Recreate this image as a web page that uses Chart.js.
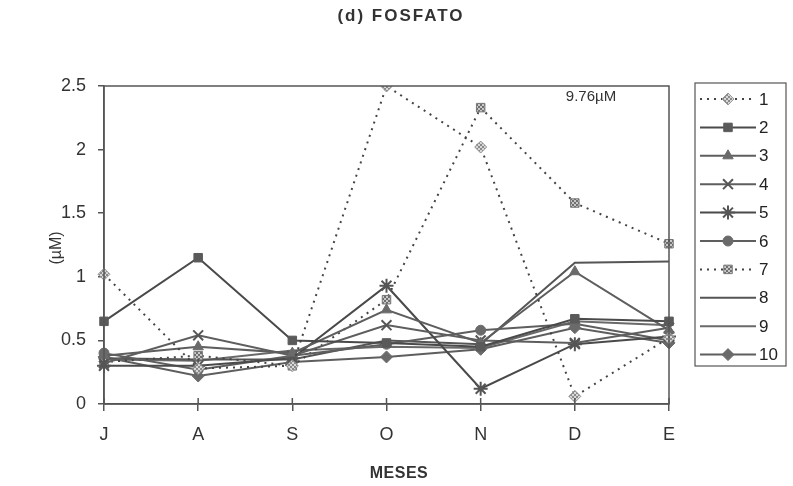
<!DOCTYPE html>
<html>
<head>
<meta charset="utf-8">
<script src="https://cdn.jsdelivr.net/npm/chart.js@4/dist/chart.umd.min.js"></script>
<style>
  html, body { margin: 0; padding: 0; background: #fff; }
  #wrap { width: 793px; height: 486px; position: relative; }
</style>
</head>
<body>
<div id="wrap"><canvas id="c" width="793" height="486"></canvas></div>
<script>
// Monthly phosphate concentration (µM) at ten stations
const meses = ['J', 'A', 'S', 'O', 'N', 'D', 'E'];
const yTicks = [0, 0.5, 1, 1.5, 2, 2.5];
const est1  = [1.02, 0.28, 0.30, 2.50, 2.02, 0.06, 0.52];
const est2  = [0.65, 1.15, 0.50, 0.48, 0.45, 0.67, 0.65];
const est3  = [0.38, 0.45, 0.40, 0.74, 0.48, 1.04, 0.58];
const est4  = [0.32, 0.54, 0.38, 0.62, 0.50, 0.48, 0.60];
const est5  = [0.30, 0.30, 0.36, 0.93, 0.12, 0.47, 0.53];
const est6  = [0.40, 0.27, 0.38, 0.47, 0.58, 0.63, 0.50];
const est7  = [0.33, 0.38, 0.30, 0.82, 2.33, 1.58, 1.26];
const est8  = [0.36, 0.35, 0.35, 0.50, 0.47, 1.11, 1.12];
const est9  = [0.35, 0.34, 0.42, 0.45, 0.44, 0.65, 0.62];
const est10 = [0.37, 0.22, 0.33, 0.37, 0.43, 0.60, 0.48];
const nota = '9.76\u00B5M';

function checker(a, b) {
  const p = document.createElement('canvas');
  p.width = 4; p.height = 4;
  const g = p.getContext('2d');
  g.fillStyle = b; g.fillRect(0, 0, 4, 4);
  g.fillStyle = a; g.fillRect(0, 0, 2, 2); g.fillRect(2, 2, 2, 2);
  return g.createPattern(p, 'repeat');
}
const ctx = document.getElementById('c').getContext('2d');
const chk1 = checker('#8a8a8a', '#d8d8d8');
const chk7 = checker('#6f6f6f', '#c8c8c8');

const LINE = '#5e5e5e';
const DOT = [2, 5];
function ds(label, data, o) {
  return Object.assign({
    label, data,
    borderColor: LINE, borderWidth: 2, borderDash: [],
    pointBackgroundColor: '#6a6a6a', pointBorderColor: '#6a6a6a',
    pointBorderWidth: 1, pointRadius: 5, pointStyle: 'circle',
    tension: 0, fill: false
  }, o);
}
const datasets = [
  ds('1', est1, { borderDash: DOT, borderColor: '#444', pointStyle: 'rectRot', pointRadius: 6, pointBackgroundColor: chk1, pointBorderColor: '#999' }),
  ds('2', est2, { borderColor: '#4a4a4a', pointStyle: 'rect', pointRadius: 6, pointBackgroundColor: '#5a5a5a', pointBorderColor: '#5a5a5a' }),
  ds('3', est3, { pointStyle: 'triangle', pointRadius: 6 }),
  ds('4', est4, { pointStyle: 'crossRot', pointRadius: 7, pointBorderWidth: 2, pointBorderColor: '#555' }),
  ds('5', est5, { borderColor: '#4a4a4a', pointStyle: 'star', pointRadius: 7, pointBorderWidth: 2, pointBorderColor: '#555' }),
  ds('6', est6, { pointStyle: 'circle', pointRadius: 5 }),
  ds('7', est7, { borderDash: DOT, borderColor: '#444', pointStyle: 'rect', pointRadius: 6, pointBackgroundColor: chk7, pointBorderColor: '#777' }),
  ds('8', est8, { borderColor: '#555', pointRadius: 0, pointStyle: false }),
  ds('9', est9, { borderColor: '#6a6a6a', pointRadius: 0, pointStyle: false }),
  ds('10', est10, { pointStyle: 'rectRot', pointRadius: 6 })
];

const FONT = '"Liberation Sans", Arial, sans-serif';

const decor = {
  id: 'decor',
  afterDatasetsDraw(chart) {
    const { ctx, chartArea: a } = chart;
    const xs = chart.scales.x;
    ctx.save();
    // frame around plot area
    ctx.strokeStyle = '#555';
    ctx.lineWidth = 1.5;
    ctx.strokeRect(a.left, a.top, a.right - a.left, a.bottom - a.top);
    // category ticks also reach a little above the axis
    ctx.beginPath();
    meses.forEach((m, i) => {
      const x = xs.getPixelForValue(i);
      ctx.moveTo(x, a.bottom - 6); ctx.lineTo(x, a.bottom);
    });
    ctx.stroke();
    // note inside the plot
    ctx.fillStyle = '#333';
    ctx.font = '15px ' + FONT;
    ctx.textAlign = 'center';
    ctx.textBaseline = 'middle';
    ctx.fillText(nota, a.right - 78, a.top + 11);
    ctx.restore();
  },
  afterDraw(chart) {
    const { ctx } = chart;
    ctx.save();
    ctx.fillStyle = '#333';
    ctx.textAlign = 'center';
    ctx.textBaseline = 'middle';
    ctx.font = 'bold 17px ' + FONT;
    ctx.letterSpacing = '2px';
    ctx.fillText('(d) FOSFATO', 401, 16);
    ctx.font = 'bold 16px ' + FONT;
    ctx.letterSpacing = '0.5px';
    ctx.fillText('MESES', 399, 474);
    ctx.letterSpacing = '0px';
    ctx.save();
    ctx.translate(57, 248);
    ctx.rotate(-Math.PI / 2);
    ctx.font = '16px ' + FONT;
    ctx.fillText('(\u00B5M)', 0, 0);
    ctx.restore();

    // legend
    const bx = 695, by = 83, bw = 91, bh = 283;
    ctx.strokeStyle = '#555';
    ctx.lineWidth = 1.2;
    ctx.strokeRect(bx, by, bw, bh);
    chart.data.datasets.forEach((d, i) => {
      const y = by + 16 + i * 28.4;
      ctx.save();
      ctx.strokeStyle = d.borderColor;
      ctx.lineWidth = 2;
      ctx.setLineDash(d.borderDash || []);
      ctx.beginPath();
      ctx.moveTo(700, y); ctx.lineTo(756, y);
      ctx.stroke();
      ctx.restore();
      if (d.pointStyle && d.pointRadius > 0 && Chart.helpers && Chart.helpers.drawPoint) {
        ctx.save();
        ctx.fillStyle = d.pointBackgroundColor;
        ctx.strokeStyle = d.pointBorderColor;
        ctx.lineWidth = d.pointBorderWidth;
        Chart.helpers.drawPoint(ctx, { pointStyle: d.pointStyle, radius: d.pointRadius, rotation: 0, borderWidth: d.pointBorderWidth }, 728, y);
        ctx.restore();
      }
      ctx.fillStyle = '#222';
      ctx.font = '17px ' + FONT;
      ctx.textAlign = 'left';
      ctx.fillText(d.label, 759, y + 1);
    });
    ctx.restore();
  }
};

new Chart(ctx, {
  type: 'line',
  data: { labels: meses, datasets },
  options: {
    responsive: false,
    animation: false,
    layout: { padding: { top: 86, right: 124, left: 0, bottom: 0 } },
    plugins: { legend: { display: false }, title: { display: false }, tooltip: { enabled: false } },
    scales: {
      x: {
        offset: false,
        grid: { drawOnChartArea: false, drawTicks: true, tickLength: 7, color: '#555', lineWidth: 1.5 },
        border: { display: true, color: '#555', width: 1.5 },
        ticks: { color: '#333', font: { size: 18, family: FONT }, padding: 13 },
        afterFit(s) { s.height = 82; }
      },
      y: {
        min: 0, max: 2.5,
        afterBuildTicks(s) { s.ticks = yTicks.map(v => ({ value: v })); },
        grid: { drawOnChartArea: false, drawTicks: true, tickLength: 6, color: '#555', lineWidth: 1.5 },
        border: { display: true, color: '#555', width: 1.5 },
        ticks: { color: '#333', font: { size: 18, family: FONT }, padding: 12, callback: v => String(v) },
        afterFit(s) { s.width = 104; }
      }
    }
  },
  plugins: [decor]
});
</script>
</body>
</html>
